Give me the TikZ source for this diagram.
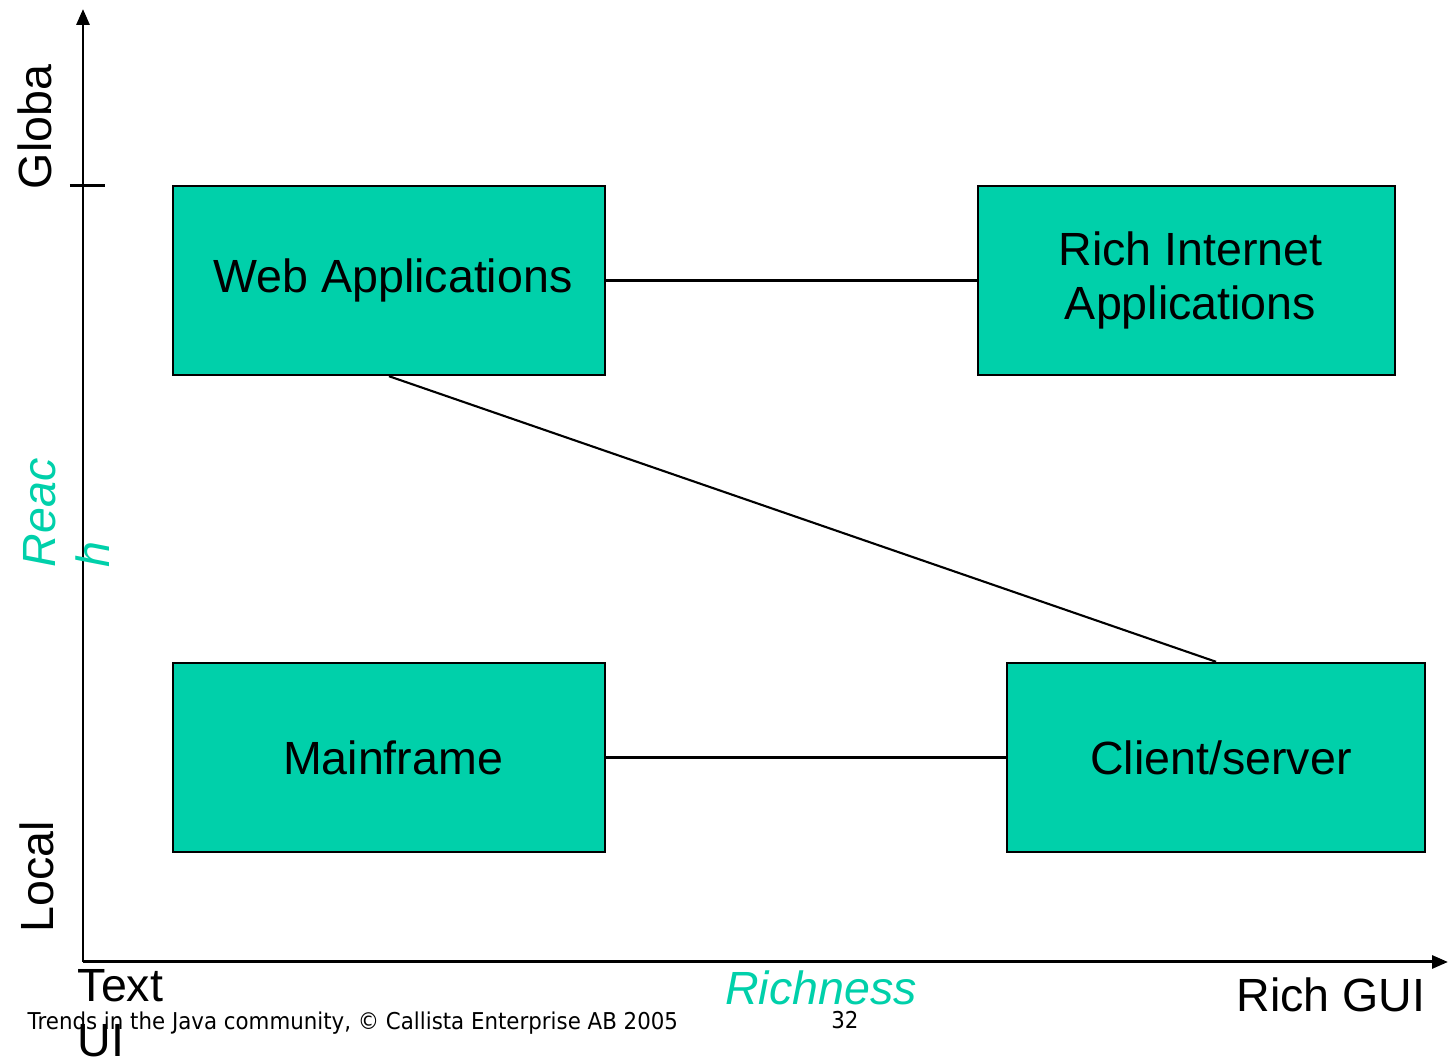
\documentclass[tikz,border=0pt]{standalone}
\usepackage{fontspec}
\setmainfont{Liberation Sans}
\newfontfamily\footfont[FakeStretch=0.92]{DejaVu Sans}
\usepackage{tikz}
\usetikzlibrary{arrows.meta, positioning}
\definecolor{teal20}{RGB}{0,208,170}

\begin{document}
\begin{tikzpicture}[
    quad/.style = {draw=black, fill=teal20, line width=0.7pt, minimum height=1.89cm,
        align=center, inner sep=0pt, font=\fontsize{13.25}{15.5}\selectfont},
    axistext/.style = {inner sep=0pt, font=\fontsize{13.25}{15.5}\selectfont},
    link/.style = {draw=black, line width=0.6pt}]

        \useasboundingbox (0,0) rectangle (14.48,10.62);

        % axes
        \coordinate (origin) at (0.83,1.00);
        \coordinate (ytop) at (0.83,10.53);
        \coordinate (xend) at (14.48,1.00);
        \draw[line width=0.85pt, -{Triangle[length=0.16cm, width=0.13cm]}] (origin) -- (ytop);
        \draw[line width=0.85pt, -{Triangle[length=0.16cm, width=0.13cm]}] (origin) -- (xend);
        \coordinate (tickL) at (0.70,8.76);
        \coordinate (tickR) at (1.05,8.76);
        \draw[line width=0.85pt] (tickL) -- (tickR);

        % the four quadrants
        \node[quad, minimum width=4.32cm] (web)    at (3.89, 7.815)  {\hspace*{0.08cm}Web Applications};
        \node[quad, minimum width=4.17cm] (ria)    at (11.865, 7.815) {\hspace*{0.08cm}Rich Internet\\\hspace*{0.08cm}Applications};
        \node[quad, minimum width=4.32cm] (mframe) at (3.89, 3.045)  {\hspace*{0.08cm}Mainframe};
        \node[quad, minimum width=4.18cm] (client) at (12.16, 3.045) {\hspace*{0.1cm}Client/server};

        \draw[link] (web.east) -- (ria.west);
        \draw[link] (mframe.east) -- (client.west);
        \draw[link] (web.south) -- (client.north);

        % axis labels
        \node[axistext, rotate=90] (global) at (0.35, 9.35) {Globa};
        \node[axistext, rotate=90] (local)  at (0.37, 1.85) {Local};
        \node[axistext, rotate=90, anchor=north west, align=left, text=teal20,
            font=\fontsize{13.25}{15.5}\selectfont\itshape] (reach) at (0.225, 4.94) {Reac\\h};
        \node[axistext, anchor=north west, align=left] (textui) at (0.77, 0.93) {Text\\UI};
        \node[axistext, anchor=base, text=teal20,
            font=\fontsize{13.25}{15.5}\selectfont\itshape] (richness) at (8.21, 0.57) {Richness};
        \node[axistext, anchor=base] (richgui) at (13.31, 0.50) {Rich GUI};

        % footer
        \node[inner sep=0pt, anchor=base west, font=\footfont\fontsize{6.6}{7.5}\selectfont]
            (footer) at (0.27, 0.32) {Trends in the Java community, \textcopyright{} Callista Enterprise AB 2005};
        \node[inner sep=0pt, anchor=base, font=\footfont\fontsize{6.6}{7.5}\selectfont]
            (pageno) at (8.45, 0.33) {32};
\end{tikzpicture}
\end{document}
